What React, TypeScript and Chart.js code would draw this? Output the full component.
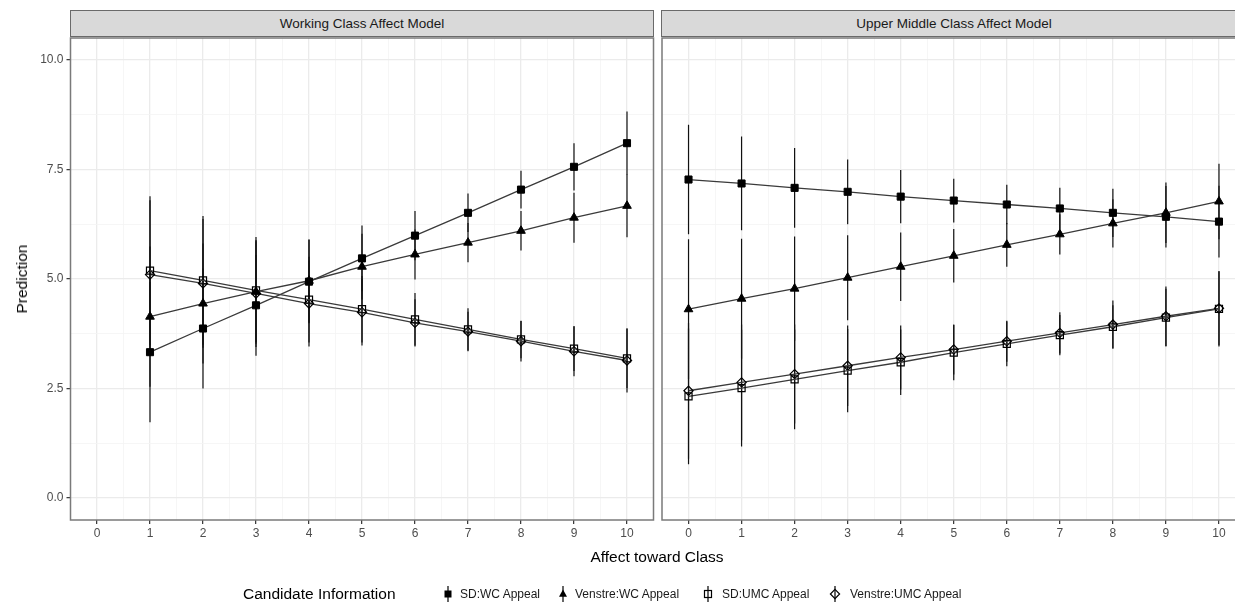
import React, { useEffect, useRef } from "react";
import { Chart, registerables } from "chart.js";
Chart.register(...registerables);

const FONT = "'Liberation Sans', Arial, Helvetica, sans-serif";

// ---------- data ----------
const seriesNames = ["SD:WC Appeal", "Venstre:WC Appeal", "SD:UMC Appeal", "Venstre:UMC Appeal"];
const panelTitles = ["Working Class Affect Model", "Upper Middle Class Affect Model"];
const xAxisTitle = "Affect toward Class";
const yAxisTitle = "Prediction";
const legendTitle = "Candidate Information";

const yMajorTicks = [0, 2.5, 5, 7.5, 10];
const yMinorTicks = [1.25, 3.75, 6.25, 8.75];
const xMajorTicks = [0, 1, 2, 3, 4, 5, 6, 7, 8, 9, 10];
const xMinorTicks = [0.5, 1.5, 2.5, 3.5, 4.5, 5.5, 6.5, 7.5, 8.5, 9.5];

// Working Class Affect Model (left panel)
const xLeft = [1, 2, 3, 4, 5, 6, 7, 8, 9, 10];
const sdWcLeft = [3.33, 3.87, 4.40, 4.94, 5.47, 5.99, 6.51, 7.04, 7.56, 8.10];
const veWcLeft = [4.14, 4.44, 4.71, 4.96, 5.28, 5.56, 5.83, 6.10, 6.40, 6.67];
const sdUmcLeft = [5.19, 4.97, 4.74, 4.53, 4.31, 4.08, 3.85, 3.62, 3.41, 3.19];
const veUmcLeft = [5.10, 4.90, 4.67, 4.44, 4.24, 4.00, 3.80, 3.58, 3.35, 3.14];
const sdWcLeftCI = [1.60, 1.37, 1.15, 0.95, 0.75, 0.56, 0.44, 0.43, 0.54, 0.72];
const veWcLeftCI = [1.60, 1.37, 1.15, 0.95, 0.75, 0.57, 0.45, 0.45, 0.57, 0.72];
const sdUmcLeftCI = [1.70, 1.47, 1.22, 0.98, 0.76, 0.60, 0.48, 0.43, 0.51, 0.68];
const veUmcLeftCI = [1.70, 1.47, 1.22, 0.98, 0.76, 0.54, 0.45, 0.46, 0.57, 0.73];

// Upper Middle Class Affect Model (right panel)
const xRight = [0, 1, 2, 3, 4, 5, 6, 7, 8, 9, 10];
const sdWcRight = [7.27, 7.18, 7.08, 6.99, 6.88, 6.79, 6.70, 6.61, 6.51, 6.42, 6.31];
const veWcRight = [4.31, 4.55, 4.78, 5.03, 5.28, 5.53, 5.78, 6.02, 6.27, 6.51, 6.77];
const sdUmcRight = [2.32, 2.51, 2.71, 2.91, 3.10, 3.32, 3.52, 3.72, 3.91, 4.12, 4.32];
const veUmcRight = [2.45, 2.64, 2.83, 3.02, 3.21, 3.39, 3.58, 3.77, 3.96, 4.15, 4.33];
const sdWcRightCI = [1.25, 1.07, 0.91, 0.74, 0.61, 0.50, 0.45, 0.47, 0.55, 0.70, 0.82];
const veWcRightCI = [1.60, 1.37, 1.19, 0.97, 0.78, 0.61, 0.50, 0.46, 0.55, 0.69, 0.86];
const sdUmcRightCI = [1.55, 1.33, 1.14, 0.95, 0.75, 0.63, 0.51, 0.46, 0.49, 0.66, 0.86];
const veUmcRightCI = [1.55, 1.32, 1.13, 0.92, 0.73, 0.57, 0.47, 0.47, 0.55, 0.68, 0.84];

// ---------- styling ----------
const markerStyles = [
  { pointStyle: "rect", radius: 5, fill: "#000000", bw: 1 },
  { pointStyle: "triangle", radius: 5, fill: "#000000", bw: 1 },
  { pointStyle: "rect", radius: 5, fill: "rgba(0,0,0,0)", bw: 1.2 },
  { pointStyle: "rectRot", radius: 4.6, fill: "rgba(0,0,0,0)", bw: 1.2 },
];

const panelBorder = {
  id: "panelBorder",
  afterDraw(chart: any) {
    const { ctx, chartArea } = chart;
    const { left, top, right, bottom } = chartArea;
    ctx.save();
    ctx.strokeStyle = "#7a7a7a";
    ctx.lineWidth = 1.5;
    ctx.strokeRect(left, top, right - left, bottom - top);
    ctx.restore();
  },
};

function errorData(xs: number[], ys: number[], ci: number[]) {
  const out: any[] = [];
  xs.forEach((x, i) => {
    out.push({ x, y: ys[i] - ci[i] }, { x, y: ys[i] + ci[i] }, { x, y: null });
  });
  return out;
}

type PanelProps = {
  xs: number[];
  ys: number[][];
  cis: number[][];
  showY: boolean;
  left: number;
  width: number;
  padLeft: number;
  padRight: number;
  yAxisWidth: number;
};

const CANVAS_H = 609;
const PLOT_TOP = 38;
const PLOT_BOTTOM = 520;
const X_AXIS_H = 30;

function Panel(props: PanelProps) {
  const ref = useRef<HTMLCanvasElement>(null);
  useEffect(() => {
    if (!ref.current) return;
    const lineDatasets = props.ys.map((ys, i) => ({
      type: "line",
      label: seriesNames[i],
      data: props.xs.map((x, j) => ({ x, y: ys[j] })),
      borderColor: "#3a3a3a",
      borderWidth: 1.3,
      pointStyle: markerStyles[i].pointStyle,
      pointRadius: markerStyles[i].radius,
      pointBackgroundColor: markerStyles[i].fill,
      pointBorderColor: "#000000",
      pointBorderWidth: markerStyles[i].bw,
      fill: false,
      tension: 0,
    }));
    const errDatasets = props.ys.map((ys, i) => ({
      type: "line",
      label: seriesNames[i] + " CI",
      data: errorData(props.xs, ys, props.cis[i]),
      borderColor: "#111111",
      borderWidth: 1.2,
      pointRadius: 0,
      spanGaps: false,
      fill: false,
    }));
    const allY = [...yMajorTicks, ...yMinorTicks].sort((a, b) => a - b);
    const allX = [...xMajorTicks, ...xMinorTicks].sort((a, b) => a - b);
    const chart = new Chart(ref.current, {
      type: "line",
      data: { datasets: [...lineDatasets, ...errDatasets] as any },
      plugins: [panelBorder],
      options: {
        animation: false,
        responsive: false,
        maintainAspectRatio: false,
        events: [],
        layout: {
          padding: {
            left: props.padLeft,
            right: props.padRight,
            top: PLOT_TOP,
            bottom: CANVAS_H - PLOT_BOTTOM - X_AXIS_H,
          },
        },
        plugins: { legend: { display: false }, tooltip: { enabled: false }, title: { display: false } },
        scales: {
          x: {
            type: "linear",
            min: -0.5,
            max: 10.5,
            offset: false,
            afterBuildTicks: (s: any) => {
              s.ticks = allX.map((v) => ({ value: v }));
            },
            afterFit: (s: any) => {
              s.height = X_AXIS_H;
            },
            ticks: {
              autoSkip: false,
              maxRotation: 0,
              padding: 2,
              color: "#4d4d4d",
              font: { family: FONT, size: 12 },
              callback: (v: any) => (xMajorTicks.includes(v) ? String(v) : ""),
            },
            grid: {
              color: (c: any) => (xMajorTicks.includes(c.tick?.value) ? "#ebebeb" : "#f4f4f4"),
              lineWidth: (c: any) => (xMajorTicks.includes(c.tick?.value) ? 1.3 : 0.8),
              tickColor: (c: any) => (xMajorTicks.includes(c.tick?.value) ? "#333333" : "rgba(0,0,0,0)"),
              tickLength: 4,
              tickWidth: 1.2,
            },
            border: { display: false },
          },
          y: {
            type: "linear",
            min: -0.5,
            max: 10.5,
            afterBuildTicks: (s: any) => {
              s.ticks = allY.map((v) => ({ value: v }));
            },
            afterFit: (s: any) => {
              s.width = props.yAxisWidth;
            },
            ticks: {
              display: props.showY,
              autoSkip: false,
              padding: 3,
              color: "#4d4d4d",
              font: { family: FONT, size: 12 },
              callback: (v: any) => (yMajorTicks.includes(v) ? Number(v).toFixed(1) : ""),
            },
            grid: {
              color: (c: any) => (yMajorTicks.includes(c.tick?.value) ? "#ebebeb" : "#f4f4f4"),
              lineWidth: (c: any) => (yMajorTicks.includes(c.tick?.value) ? 1.3 : 0.8),
              tickColor: (c: any) => (yMajorTicks.includes(c.tick?.value) ? "#333333" : "rgba(0,0,0,0)"),
              drawTicks: props.showY,
              tickLength: 4,
              tickWidth: 1.2,
            },
            border: { display: false },
          },
        },
      } as any,
    });
    return () => chart.destroy();
  }, []);
  return (
    <canvas
      ref={ref}
      width={props.width}
      height={CANVAS_H}
      style={{ position: "absolute", left: props.left, top: 0, width: props.width, height: CANVAS_H }}
    />
  );
}

function LegendGlyph({ idx }: { idx: number }) {
  const cx = 7;
  const cy = 9;
  let marker: any = null;
  if (idx === 0) marker = <rect x={cx - 3.5} y={cy - 3.5} width={7} height={7} fill="#000" />;
  if (idx === 1) marker = <polygon points={`${cx},${cy - 4.5} ${cx + 4},${cy + 2.8} ${cx - 4},${cy + 2.8}`} fill="#000" />;
  if (idx === 2) marker = <rect x={cx - 3.5} y={cy - 3.5} width={7} height={7} fill="none" stroke="#000" strokeWidth={1.2} />;
  if (idx === 3) marker = <polygon points={`${cx},${cy - 4.6} ${cx + 4.6},${cy} ${cx},${cy + 4.6} ${cx - 4.6},${cy}`} fill="none" stroke="#000" strokeWidth={1.2} />;
  return (
    <svg width={14} height={18} style={{ display: "block" }}>
      <line x1={cx} y1={1} x2={cx} y2={17} stroke="#000" strokeWidth={1.2} />
      {marker}
    </svg>
  );
}

const legendGlyphX = [448, 563, 708, 835];
const legendLabelX = [460, 575, 722, 850];

export default function App() {
  useEffect(() => {
    document.body.style.margin = "0";
  }, []);
  const stripStyle: any = {
    position: "absolute",
    top: 10,
    height: 27,
    background: "#d9d9d9",
    border: "1px solid #6a6a6a",
    boxSizing: "border-box",
    display: "flex",
    alignItems: "center",
    justifyContent: "center",
    fontFamily: FONT,
    fontSize: 13.5,
    color: "#1a1a1a",
  };
  return (
    <div style={{ position: "fixed", left: 0, top: 0, width: 1235, height: 609, overflow: "hidden", background: "#fff" }}>
      <Panel
        xs={xLeft}
        ys={[sdWcLeft, veWcLeft, sdUmcLeft, veUmcLeft]}
        cis={[sdWcLeftCI, veWcLeftCI, sdUmcLeftCI, veUmcLeftCI]}
        showY={true}
        left={0}
        width={660}
        padLeft={0}
        padRight={6.5}
        yAxisWidth={70.5}
      />
      <Panel
        xs={xRight}
        ys={[sdWcRight, veWcRight, sdUmcRight, veUmcRight]}
        cis={[sdWcRightCI, veWcRightCI, sdUmcRightCI, veUmcRightCI]}
        showY={false}
        left={655}
        width={600}
        padLeft={7}
        padRight={9.5}
        yAxisWidth={0}
      />
      <div style={{ ...stripStyle, left: 70, width: 584 }}>{panelTitles[0]}</div>
      <div style={{ ...stripStyle, left: 661, width: 586 }}>{panelTitles[1]}</div>
      <div
        style={{
          position: "absolute",
          left: 22,
          top: 279,
          transform: "translate(-50%, -50%) rotate(-90deg)",
          fontFamily: FONT,
          fontSize: 15.5,
          color: "#000",
          whiteSpace: "nowrap",
        }}
      >
        {yAxisTitle}
      </div>
      <div
        style={{
          position: "absolute",
          left: 657,
          top: 557,
          transform: "translate(-50%, -50%)",
          fontFamily: FONT,
          fontSize: 15.5,
          color: "#000",
          whiteSpace: "nowrap",
        }}
      >
        {xAxisTitle}
      </div>
      <div
        style={{
          position: "absolute",
          left: 243,
          top: 594,
          transform: "translateY(-50%)",
          fontFamily: FONT,
          fontSize: 15.5,
          color: "#000",
          whiteSpace: "nowrap",
        }}
      >
        {legendTitle}
      </div>
      {seriesNames.map((name, i) => (
        <React.Fragment key={name}>
          <div style={{ position: "absolute", left: legendGlyphX[i] - 7, top: 594 - 9 }}>
            <LegendGlyph idx={i} />
          </div>
          <div
            style={{
              position: "absolute",
              left: legendLabelX[i],
              top: 594,
              transform: "translateY(-50%)",
              fontFamily: FONT,
              fontSize: 12,
              color: "#1a1a1a",
              whiteSpace: "nowrap",
            }}
          >
            {name}
          </div>
        </React.Fragment>
      ))}
    </div>
  );
}
